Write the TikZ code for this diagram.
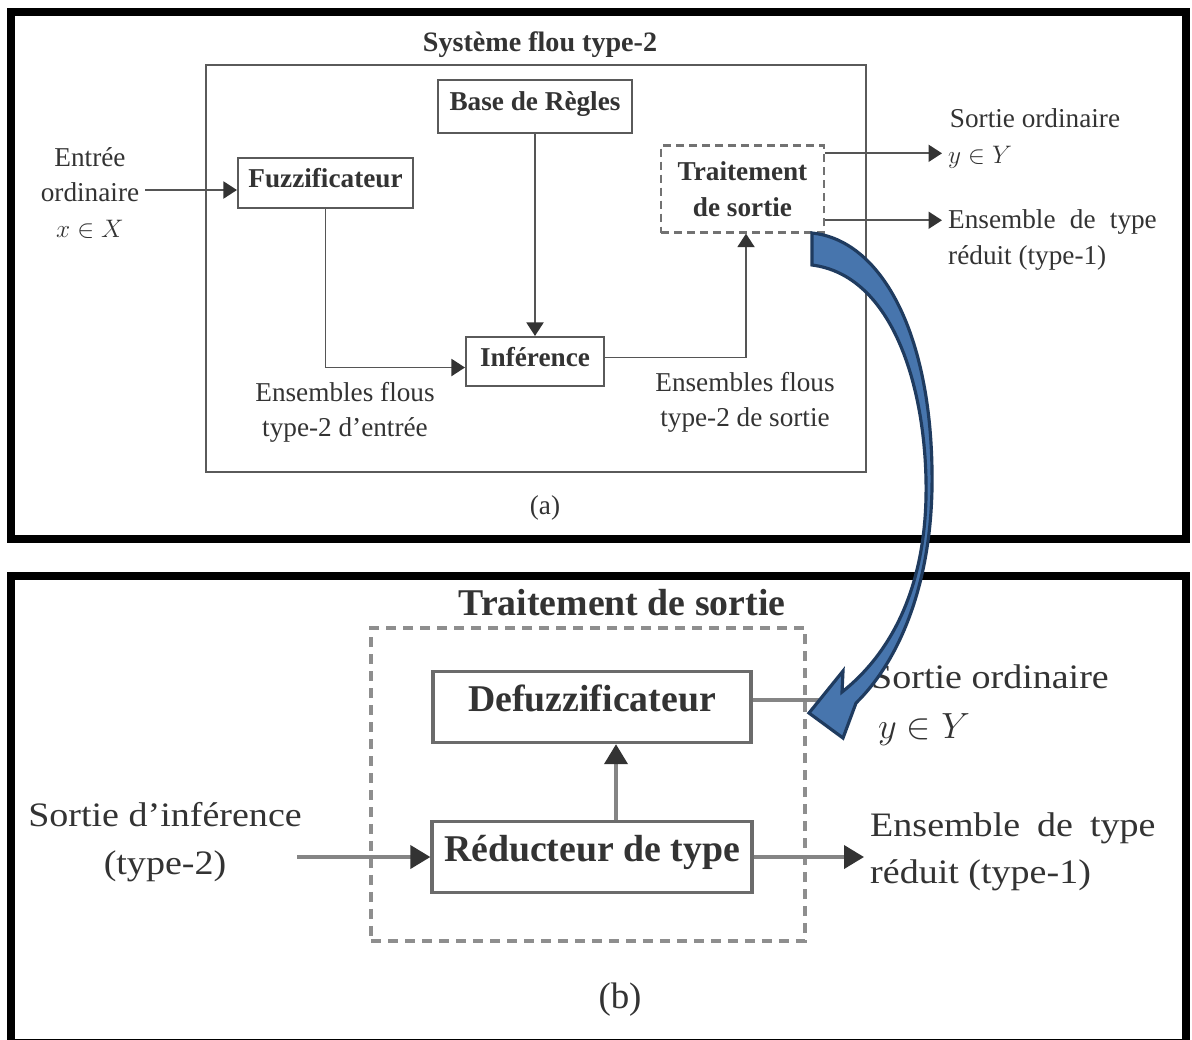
\documentclass[tikz,border=0pt]{standalone}
\usepackage{fontspec}
\setmainfont{Liberation Serif}
\newfontfamily\widefont[FakeStretch=1.11]{Liberation Serif}
\usepackage{xcolor}
\usepackage{tikz}
\usetikzlibrary{arrows.meta, positioning, calc}

\definecolor{inkgray}{HTML}{333333}
\definecolor{boxgray}{HTML}{5A5A5A}
\definecolor{linegray}{HTML}{555555}
\definecolor{tipgray}{HTML}{333333}
\definecolor{lightline}{HTML}{858585}
\definecolor{dashgray}{HTML}{8E8E8E}
\definecolor{arrowfill}{HTML}{4775AD}
\definecolor{arrowedge}{HTML}{1F3B5F}

\begin{document}
\begin{tikzpicture}[
    x=0.02cm, y=-0.02cm,
    frame/.style={draw=black, line width=4.6pt},
    blocka/.style={
        rectangle, draw=boxgray, line width=1.2pt, inner sep=2pt,
        font=\fontsize{15.5}{18}\selectfont\bfseries, text=inkgray,
        text depth=0.2cm,
    },
    dasha/.style={
        rectangle, draw=dashgray!80!black, line width=1.3pt,
        dash pattern=on 0.16cm off 0.1cm, align=center,
        font=\fontsize{15.5}{20.5}\selectfont\bfseries, text=inkgray,
    },
    lbla/.style={font=\fontsize{15.5}{20}\selectfont, text=inkgray, align=center},
    arra/.style={-{Triangle[length=0.27cm, width=0.34cm, color=tipgray]}, draw=linegray, line width=1.1pt},
    blockb/.style={
        rectangle, draw=boxgray!90, line width=1.9pt, inner sep=2pt,
        font=\fontsize{21.5}{24}\selectfont\bfseries, text=inkgray,
        text depth=0.36cm,
    },
    lblb/.style={font=\widefont\fontsize{19.5}{27}\selectfont, text=inkgray, align=center},
    arrb/.style={-{Triangle[length=0.4cm, width=0.46cm, color=tipgray]}, draw=lightline, line width=2.2pt},
    lineb/.style={draw=lightline, line width=2.2pt},
    bigarrow/.style={fill=arrowfill, draw=arrowedge, line width=1.8pt, line join=miter},
]

\path[use as bounding box, fill=white] (0,0) rectangle (1192,1039);

% FRAMES
\draw[frame] (11,12) rectangle (1186,539);
\draw[frame] (11,576) rectangle (1186,1043);

% PART (a): SYSTEME FLOU TYPE-2
\node[font=\fontsize{16}{18}\selectfont\bfseries, text=inkgray] (titrea) at (540,45) {Système flou type-2};
\node[rectangle, draw=boxgray, line width=1.1pt, minimum width=13.2cm, minimum height=8.14cm] (sys) at (536,268.5) {};

\node[blocka, minimum width=3.88cm, minimum height=1.06cm] (regles) at (535,106.5) {Base de Règles};
\node[blocka, minimum width=3.5cm, minimum height=1.0cm] (fuzz) at (325.5,183) {Fuzzificateur};
\node[blocka, minimum width=2.76cm, minimum height=0.98cm] (infer) at (535,361.5) {Inférence};
\node[dasha, minimum width=3.26cm, minimum height=1.74cm] (trait) at (742.5,189) {Traitement\\de sortie};

\node[lbla] (entree) at (90,193) {Entrée\\ordinaire\\$x\in X$};
\draw[arra] (entree.east |- 0,190) -- ($(fuzz.west)+(0,7)$);

\draw[arra] (fuzz.south) |- ($(infer.west)+(0,6)$);
\draw[arra] (regles.south) -- (infer.north);
\draw[arra] ($(infer.east)+(0,-4)$) -| ($(trait.south)+(3.5,0)$);

\node[lbla] (flentree) at (345,412) {Ensembles flous\\type-2 d’entrée};
\node[lbla] (flsortie) at (745,402) {Ensembles flous\\type-2 de sortie};

% outputs of (a)
\node[lbla] (sorta) at (1035,118) {Sortie ordinaire};
\node[lbla, anchor=west] (ya) at (942,157) {$y\in Y$};
\node[lbla, align=left, anchor=west] (ensa) at (942,240) {Ensemble\hspace{0.15cm} de\hspace{0.15cm} type\\réduit (type-1)};

\coordinate (trout1) at ($(trait.north east)!0.1!(trait.south east)$);
\coordinate (trout2) at ($(trait.north east)!0.85!(trait.south east)$);
\draw[arra] (trout1) -- (trout1 -| ya.west);
\draw[arra] (trout2) -- (trout2 -| ensa.west);

\node[lbla] (capa) at (545,508) {(a)};

% PART (b): TRAITEMENT DE SORTIE
\node[font=\fontsize{21.5}{24}\selectfont\bfseries, text=inkgray] (titreb) at (622,603) {Traitement de sortie};
\node[rectangle, draw=dashgray, line width=2.5pt, dash pattern=on 0.2cm off 0.14cm,
      minimum width=8.68cm, minimum height=6.26cm] (trsort) at (588,784.5) {};

\node[blockb, minimum width=6.36cm, minimum height=1.42cm] (defuzz) at (592,707) {Defuzzificateur};
\node[blockb, minimum width=6.4cm, minimum height=1.42cm] (reduct) at (592,857) {Réducteur de type};

\draw[arrb] ($(reduct.north)+(24,0)$) -- ($(defuzz.south)+(24,0)$);

\node[lblb] (sortinf) at (165,842) {Sortie d’inférence\\(type-2)};
\coordinate (inb) at (297,857);
\draw[arrb] (inb) -- (reduct.west);

\node[lblb, align=left, anchor=west] (ensb) at (864,852) {Ensemble\hspace{0.15cm} de\hspace{0.15cm} type\\réduit (type-1)};
\draw[arrb] (reduct.east) -- (reduct.east -| ensb.west);

\node[lblb] (sortb) at (990,677) {Sortie ordinaire};
\node[lblb] (yb) at (924,730) {$y\in Y$};
\coordinate (dfout) at (832,700);
\draw[lineb] ($(defuzz.east)+(0,-7)$) -- (dfout);

\node[font=\fontsize{21}{24}\selectfont, text=inkgray] (capb) at (620,1000) {(b)};

% BIG CURVED ARROW (a) -> (b)
\filldraw[bigarrow]
    (812,233) .. controls (880,240) and (930,330) .. (932,470)
              .. controls (934,580) and (900,660) .. (856,703)
    -- (843,738) -- (809,713) -- (843,671) -- (842,692)
              .. controls (895,650) and (928,580) .. (926,480)
              .. controls (924,380) and (890,275) .. (812,265)
    -- cycle;

\end{tikzpicture}
\end{document}
